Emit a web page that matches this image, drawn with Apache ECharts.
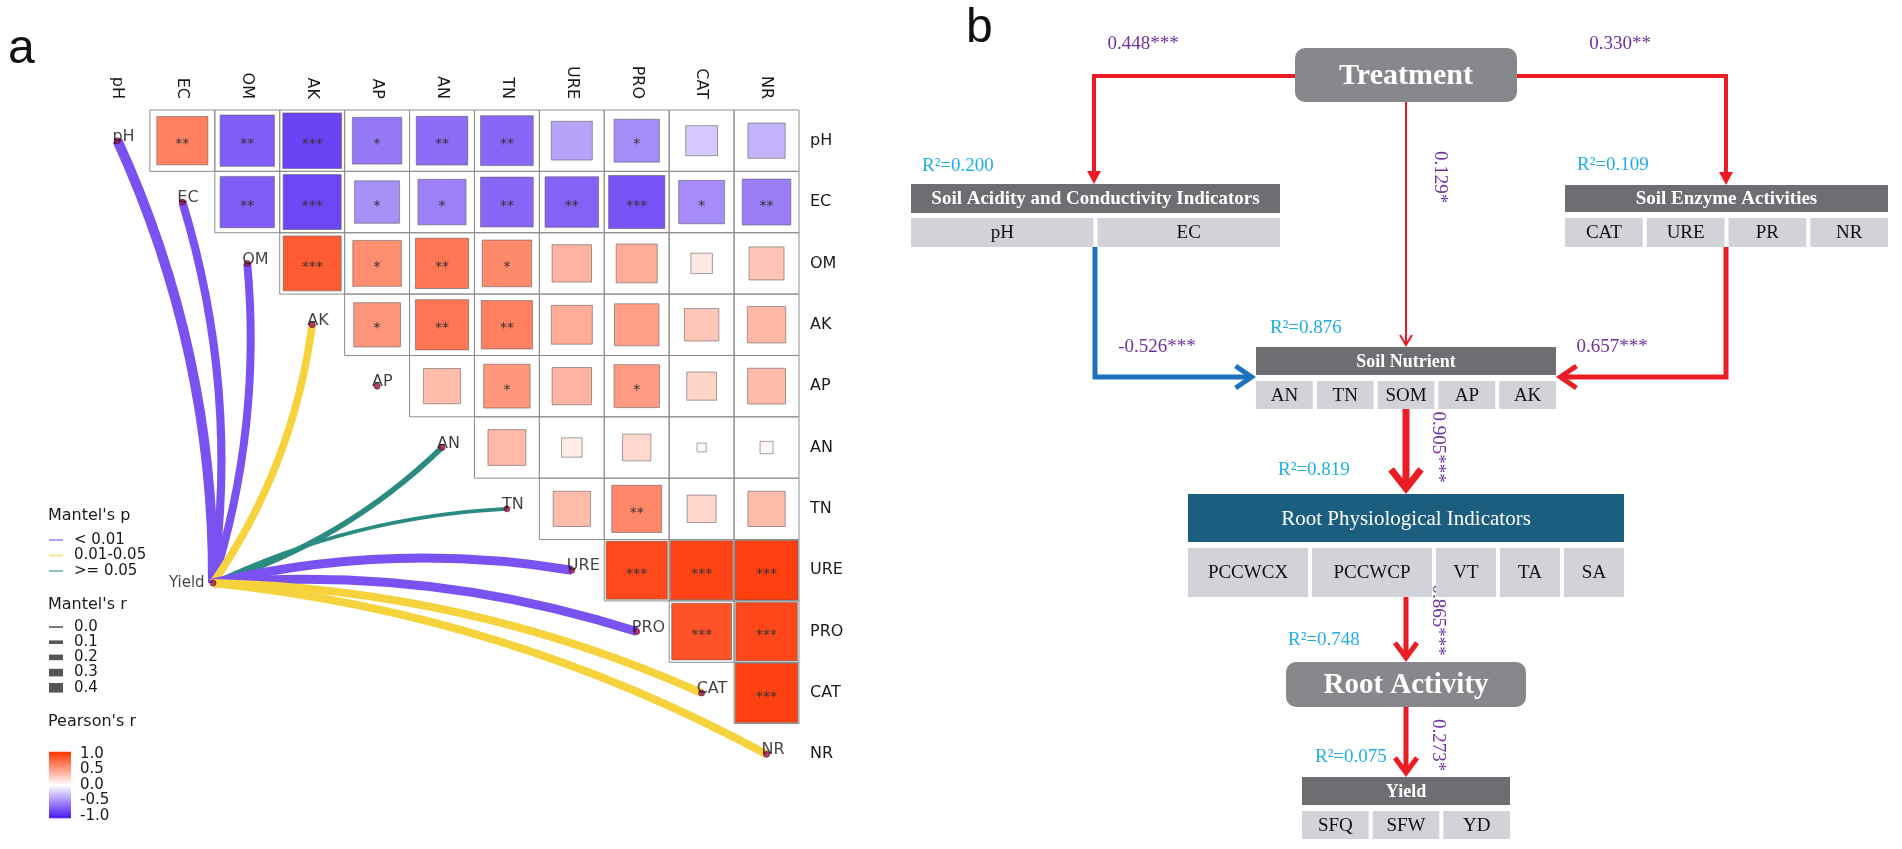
<!DOCTYPE html>
<html><head><meta charset="utf-8">
<script src="https://cdn.jsdelivr.net/npm/echarts@6/dist/echarts.min.js"></script>
<style>html,body{margin:0;padding:0;background:#fff}#c{width:1902px;height:849px}</style>
</head><body><div id="c"></div>
<script>
// ================= Panel a : data =================
const vars = ['pH','EC','OM','AK','AP','AN','TN','URE','PRO','CAT','NR'];
// Pearson's r, upper triangle: row i holds columns i+1 .. 10
const pearsonR = [
  [0.62,-0.70,-0.82,-0.58,-0.63,-0.66,-0.40,-0.49,-0.24,-0.33],
  [-0.70,-0.80,-0.48,-0.55,-0.66,-0.68,-0.75,-0.50,-0.56],
  [0.80,0.56,0.67,0.58,0.37,0.40,0.11,0.29],
  [0.52,0.67,0.62,0.40,0.47,0.28,0.35],
  [0.33,0.51,0.37,0.49,0.21,0.34],
  [0.34,0.10,0.19,0.02,0.04],
  [0.33,0.59,0.20,0.33],
  [0.89,0.92,0.94],
  [0.85,0.90],
  [0.93]
];
const pearsonStars = [
  ['**','**','***','*','**','**','','*','',''],
  ['**','***','*','*','**','**','***','*','**'],
  ['***','*','**','*','','','',''],
  ['*','**','**','','','',''],
  ['','*','','*','',''],
  ['','','','',''],
  ['','**','',''],
  ['***','***','***'],
  ['***','***'],
  ['***']
];
const mantelTarget = 'Yield';
const mantelR = [0.42,0.33,0.32,0.30,null,0.20,0.10,0.37,0.37,0.32,0.32];
const mantelP = ['< 0.01','< 0.01','< 0.01','0.01-0.05',null,'>= 0.05','>= 0.05','< 0.01','< 0.01','0.01-0.05','0.01-0.05'];
const pLevels = ['< 0.01','0.01-0.05','>= 0.05'];
const rLevels = [0.0,0.1,0.2,0.3,0.4];

// ================= Panel b : data =================
const groups = ['Treatment','Soil Acidity and Conductivity Indicators','Soil Enzyme Activities','Soil Nutrient','Root Physiological Indicators','Root Activity','Yield'];
const groupItems = [[],['pH','EC'],['CAT','URE','PR','NR'],['AN','TN','SOM','AP','AK'],['PCCWCX','PCCWCP','VT','TA','SA'],[],['SFQ','SFW','YD']];
const rSquared = [null,0.200,0.109,0.876,0.819,0.748,0.075];
const pathFrom = [0,0,0,1,2,3,4,5];
const pathTo   = [1,2,3,3,3,4,5,6];
const pathCoef = [0.448,0.330,0.129,-0.526,0.657,0.905,0.865,0.273];
const pathStars= ['***','**','*','***','***','***','***','*'];

// ================= styles / layout =================
const SANS = '"DejaVu Sans", sans-serif';
const SERIF = '"Liberation Serif", "Times New Roman", serif';
const heatPalette = ['#4a18f2','#ffffff','#ff3300'];
const pColor = {'< 0.01':'#7a52f2','0.01-0.05':'#f6d33c','>= 0.05':'#2b8b80'};
const rWidth = r => 1.6 + 20 * r;
const linkCurve = [-0.11,-0.11,-0.10,-0.12,0,-0.12,0.10,0.10,0.10,0.10,0.10];
const yieldPos = [1.972, 7.708];   // position of the Yield node in cell units

const RED = '#ec1c24', BLUE = '#1c72bf', PURPLE = '#7030a0', CYAN = '#1eaee6';
const nodeLayout = [
  {shape:'round', x0:1295, y0:48, x1:1517, y1:102, fill:'#87888b', fs:30, r:10},
  {shape:'table', x0:911, x1:1280, hy0:184, hy1:213, cy0:218, cy1:247, head:'#6d6e71', fs:19, bold:true, w:[1,1]},
  {shape:'table', x0:1565, x1:1888, hy0:185, hy1:212, cy0:218, cy1:247, head:'#6d6e71', fs:19, bold:true, w:[1,1,1,1]},
  {shape:'table', x0:1256, x1:1556, hy0:347, hy1:375, cy0:381, cy1:409, head:'#6d6e71', fs:18, bold:true, w:[1,1,1,1,1]},
  {shape:'table', x0:1188, x1:1624, hy0:494, hy1:542, cy0:548, cy1:597, head:'#1b5e80', fs:21, bold:false, w:[2,2,1,1,1]},
  {shape:'round', x0:1286, y0:662, x1:1526, y1:707, fill:'#87888b', fs:29, r:10},
  {shape:'table', x0:1302, x1:1510, hy0:777, hy1:805, cy0:811, cy1:839, head:'#6d6e71', fs:18, bold:true, w:[1,1,1]}
];
const r2Pos = [null,[922,166],[1577,165],[1270,328],[1278,470],[1288,640],[1315,757]];
const pathLayout = [
  {pts:[[1300,76],[1094,76],[1094,184]], color:RED, w:4, head:'tri', hl:13, hw:7, label:[1143,44], rot:false},
  {pts:[[1512,76],[1726,76],[1726,185]], color:RED, w:4, head:'tri', hl:13, hw:7, label:[1620,44], rot:false},
  {pts:[[1406,100],[1406,347]], color:RED, w:2, head:'chev', hl:10, hw:6, label:[1440,177], rot:true},
  {pts:[[1095,247],[1095,377],[1256,377]], color:BLUE, w:5, head:'chev', hl:16, hw:11, label:[1157,347], rot:false},
  {pts:[[1726,247],[1726,377],[1556,377]], color:RED, w:5, head:'chev', hl:16, hw:11, label:[1612,347], rot:false},
  {pts:[[1406,409],[1406,494]], color:RED, w:7, head:'chev', hl:19, hw:15, label:[1438,447], rot:true},
  {pts:[[1406,597],[1406,662]], color:RED, w:5, head:'chev', hl:15, hw:11, label:[1438,620], rot:true},
  {pts:[[1406,707],[1406,777]], color:RED, w:5, head:'chev', hl:15, hw:11, label:[1438,745], rot:true}
];

// ================= build =================
const cells = [];
pearsonR.forEach((row, i) => row.forEach((r, k) => {
  cells.push({i: i, j: i + 1 + k, r: r, s: pearsonStars[i][k]});
}));

const links = [];
vars.forEach((v, k) => {
  if (mantelR[k] == null) return;
  links.push({
    coords: [yieldPos, [k + 0.5, k + 0.5]],
    lineStyle: {color: pColor[mantelP[k]], width: rWidth(mantelR[k]), curveness: linkCurve[k], opacity: 1}
  });
});

function gridRender(params, api) {
  const j = api.value(0), i = api.value(1);
  const a = api.coord([j, i]), b = api.coord([j + 1, i + 1]);
  return {type:'rect', shape:{x:a[0], y:a[1], width:b[0]-a[0], height:b[1]-a[1]},
          style:{fill:'none', stroke:'#8e8e8e', lineWidth:1}};
}
function squareRender(params, api) {
  const c = cells[params.dataIndex];
  const ctr = api.coord([c.j + 0.5, c.i + 0.5]);
  const sz = api.size([1, 1]);
  const s = Math.sqrt(Math.abs(c.r));
  const w = Math.abs(sz[0]) * s, h = Math.abs(sz[1]) * s;
  const ch = [{type:'rect', shape:{x:ctr[0]-w/2, y:ctr[1]-h/2, width:w, height:h},
               style:{fill:api.visual('color'), stroke:'rgba(90,90,90,0.55)', lineWidth:1}}];
  if (c.s) ch.push({type:'text', x:ctr[0], y:ctr[1]+4,
      style:{text:c.s, fill:'#333', fontSize:14, fontFamily:SANS, align:'center', verticalAlign:'middle', textAlign:'center', textVerticalAlign:'middle'}});
  return {type:'group', children:ch};
}
function colorbarRender(params, api) {
  const a = api.coord([0, 1.07]), b = api.coord([1, -1.07]);
  return {type:'rect', shape:{x:a[0], y:a[1], width:b[0]-a[0], height:b[1]-a[1]},
    style:{fill:new echarts.graphic.LinearGradient(0,0,0,1,[
      {offset:0, color:heatPalette[2]},{offset:0.5, color:heatPalette[1]},{offset:1, color:heatPalette[0]}])}};
}
function txt(x, y, text, o) {
  return Object.assign({type:'text', x:x, y:y, style:Object.assign({text:text, align:'left', verticalAlign:'middle', textAlign:'left', textVerticalAlign:'middle'}, o || {})});
}
function nodeRender(params, api) {
  const k = params.dataIndex, L = nodeLayout[k];
  const P = p => api.coord(p);
  const ch = [];
  if (L.shape === 'round') {
    const a = P([L.x0, L.y0]), b = P([L.x1, L.y1]);
    ch.push({type:'rect', shape:{x:a[0], y:a[1], width:b[0]-a[0], height:b[1]-a[1], r:L.r}, style:{fill:L.fill}});
    ch.push({type:'text', x:(a[0]+b[0])/2, y:(a[1]+b[1])/2+1, style:{text:groups[k], fill:'#fff', fontSize:L.fs, fontWeight:'bold', fontFamily:SERIF, align:'center', verticalAlign:'middle', textAlign:'center', textVerticalAlign:'middle'}});
  } else {
    const a = P([L.x0, L.hy0]), b = P([L.x1, L.hy1]);
    ch.push({type:'rect', shape:{x:a[0], y:a[1], width:b[0]-a[0], height:b[1]-a[1]}, style:{fill:L.head}});
    ch.push({type:'text', x:(a[0]+b[0])/2, y:(a[1]+b[1])/2+1, style:{text:groups[k], fill:'#fff', fontSize:L.fs, fontWeight:L.bold?'bold':'normal', fontFamily:SERIF, align:'center', verticalAlign:'middle', textAlign:'center', textVerticalAlign:'middle'}});
    const items = groupItems[k];
    const wsum = L.w.reduce((s, v) => s + v, 0), gap = 4;
    const c0 = P([L.x0, L.cy0]), c1 = P([L.x1, L.cy1]);
    const avail = c1[0] - c0[0] - gap * (items.length - 1);
    let x = c0[0];
    items.forEach((t, m) => {
      const cw = avail * L.w[m] / wsum;
      ch.push({type:'rect', shape:{x:x, y:c0[1], width:cw, height:c1[1]-c0[1]}, style:{fill:'#d1d3d8'}});
      ch.push({type:'text', x:x+cw/2, y:(c0[1]+c1[1])/2+1, style:{text:t, fill:'#111', fontSize:19, fontFamily:SERIF, align:'center', verticalAlign:'middle', textAlign:'center', textVerticalAlign:'middle'}});
      x += cw + gap;
    });
  }
  if (rSquared[k] != null) {
    const p = P(r2Pos[k]);
    ch.push(txt(p[0], p[1], 'R\u00B2=' + rSquared[k].toFixed(3), {fill:CYAN, fontSize:19, fontFamily:SERIF}));
  }
  return {type:'group', children:ch};
}
function pathRender(params, api) {
  const k = params.dataIndex, L = pathLayout[k];
  const pts = L.pts.map(p => api.coord(p));
  const n = pts.length, tip = pts[n-1], prev = pts[n-2];
  const dx = tip[0]-prev[0], dy = tip[1]-prev[1], len = Math.hypot(dx, dy);
  const ux = dx/len, uy = dy/len, nx = -uy, ny = ux;
  const ch = [];
  let lineEnd;
  if (L.head === 'tri') {
    const bx = tip[0]-ux*L.hl, by = tip[1]-uy*L.hl;
    ch.push({type:'polygon', shape:{points:[tip,[bx+nx*L.hw, by+ny*L.hw],[bx-nx*L.hw, by-ny*L.hw]]}, style:{fill:L.color}});
    lineEnd = [tip[0]-ux*L.hl*0.7, tip[1]-uy*L.hl*0.7];
  } else {
    const ext = (L.w/2) / Math.sin(Math.atan2(L.hw, L.hl));
    const v = [tip[0]-ux*ext, tip[1]-uy*ext];
    const bx = v[0]-ux*L.hl, by = v[1]-uy*L.hl;
    ch.push({type:'polyline', shape:{points:[[bx+nx*L.hw, by+ny*L.hw], v, [bx-nx*L.hw, by-ny*L.hw]]},
             style:{stroke:L.color, lineWidth:L.w, fill:'none', lineJoin:'miter', miterLimit:10}});
    lineEnd = v;
  }
  ch.unshift({type:'polyline', shape:{points:pts.slice(0, n-1).concat([lineEnd])},
              style:{stroke:L.color, lineWidth:L.w, fill:'none', lineJoin:'miter'}});
  const lp = api.coord(L.label);
  const label = pathCoef[k].toFixed(3) + pathStars[k];
  ch.push({type:'text', x:lp[0], y:lp[1], rotation: L.rot ? -Math.PI/2 : 0,
           style:{text:label, fill:PURPLE, fontSize:19, fontFamily:SERIF, align:'center', verticalAlign:'middle', textAlign:'center', textVerticalAlign:'middle'}});
  return {type:'group', children:ch};
}

// legends of panel a (graphic)
const G = [];
const gtext = (x, y, t, fs) => ({type:'text', x:x, y:y, silent:true,
  style:{text:t, fill:'#1a1a1a', fontSize:fs, fontFamily:SANS, align:'left', verticalAlign:'middle', textAlign:'left', textVerticalAlign:'middle'}});
G.push(gtext(48, 516, "Mantel's p", 16));
pLevels.forEach((lv, m) => {
  const y = 540 + m * 15.5;
  G.push({type:'line', silent:true, shape:{x1:49, y1:y, x2:63, y2:y}, style:{stroke:pColor[lv], lineWidth:2, opacity:0.55}});
  G.push(gtext(74, y, lv, 15));
});
G.push(gtext(48, 605, "Mantel's r", 16));
rLevels.forEach((lv, m) => {
  const y = 627 + m * 15.2;
  G.push({type:'line', silent:true, shape:{x1:49, y1:y, x2:63, y2:y}, style:{stroke:'#555', lineWidth:rWidth(lv)}});
  G.push(gtext(74, y, lv.toFixed(1), 15));
});
G.push(gtext(48, 722, "Pearson's r", 16));
G.push({type:'text', x:8, y:50, silent:true, style:{text:'a', fill:'#111', fontSize:48, fontFamily:'"Liberation Sans", Arial, sans-serif', align:'left', verticalAlign:'middle', textAlign:'left', textVerticalAlign:'middle'}});
G.push({type:'text', x:966, y:29, silent:true, style:{text:'b', fill:'#111', fontSize:48, fontFamily:'"Liberation Sans", Arial, sans-serif', align:'left', verticalAlign:'middle', textAlign:'left', textVerticalAlign:'middle'}});

const hid = {show:false};
const option = {
  animation:false,
  backgroundColor:'#ffffff',
  grid:[
    {left:85, top:110, width:714, height:675},
    {left:0, top:0, width:1902, height:849},
    {left:49, top:754, width:22, height:62}
  ],
  xAxis:[
    {gridIndex:0, type:'value', min:0, max:11, show:false},
    {gridIndex:0, type:'category', data:vars, position:'top', axisLine:hid, axisTick:hid, splitLine:hid,
     axisLabel:{rotate:90, margin:11, fontSize:16, fontFamily:SANS, color:'#1a1a1a'}},
    {gridIndex:1, type:'value', min:0, max:1902, show:false},
    {gridIndex:2, type:'value', min:0, max:1, show:false}
  ],
  yAxis:[
    {gridIndex:0, type:'value', min:0, max:11, inverse:true, show:false},
    {gridIndex:0, type:'category', data:vars, inverse:true, position:'right', axisLine:hid, axisTick:hid, splitLine:hid,
     axisLabel:{margin:11, fontSize:16, fontFamily:SANS, color:'#1a1a1a'}},
    {gridIndex:1, type:'value', min:0, max:849, inverse:true, show:false},
    {gridIndex:2, type:'value', min:-1, max:1, interval:0.5, position:'right', axisLine:hid, splitLine:hid,
     axisTick:{show:true, inside:true, length:4, lineStyle:{color:'#ffffff', width:1}},
     axisLabel:{margin:9, fontSize:15, fontFamily:SANS, color:'#1a1a1a', formatter:v => v.toFixed(1)}}
  ],
  visualMap:{type:'continuous', show:false, min:-1, max:1, dimension:2, seriesIndex:1, inRange:{color:heatPalette}},
  graphic:{elements:G},
  series:[
    {type:'custom', xAxisIndex:0, yAxisIndex:0, z:1, silent:true, renderItem:gridRender, data:cells.map(c => [c.j, c.i])},
    {type:'custom', xAxisIndex:0, yAxisIndex:0, z:2, silent:true, renderItem:squareRender, data:cells.map(c => [c.j, c.i, c.r])},
    {type:'lines', coordinateSystem:'cartesian2d', xAxisIndex:0, yAxisIndex:0, z:3, silent:true, data:links},
    {type:'scatter', xAxisIndex:0, yAxisIndex:0, z:4, silent:true, symbol:'circle', symbolSize:6,
     itemStyle:{color:'#a3124c', borderColor:'#5c0a2b', borderWidth:0.8},
     label:{show:true, position:'inside', align:'left', verticalAlign:'bottom', offset:[-5, 4], formatter:'{b}', fontSize:16, fontFamily:SANS, color:'#111'},
     data:vars.map((v, k) => ({name:v, value:[k + 0.5, k + 0.5]}))},
    {type:'scatter', xAxisIndex:0, yAxisIndex:0, z:4, silent:true, symbol:'circle', symbolSize:6,
     itemStyle:{color:'#a3124c', borderColor:'#5c0a2b', borderWidth:0.8},
     label:{show:true, position:'left', distance:5, formatter:'{b}', fontSize:15, fontFamily:SANS, color:'#111'},
     data:[{name:mantelTarget, value:yieldPos}]},
    {type:'custom', xAxisIndex:3, yAxisIndex:3, z:2, silent:true, clip:false, renderItem:colorbarRender, data:[[0.5, 0]]},
    {type:'custom', xAxisIndex:2, yAxisIndex:2, z:2, silent:true, clip:false, renderItem:pathRender, data:pathFrom.map((f, k) => [f, pathTo[k]])},
    {type:'custom', xAxisIndex:2, yAxisIndex:2, z:3, silent:true, clip:false, renderItem:nodeRender, data:groups.map((g, k) => [k, 0])}
  ]
};
const chart = echarts.init(document.getElementById('c'));
chart.setOption(option);
</script>
</body></html>
